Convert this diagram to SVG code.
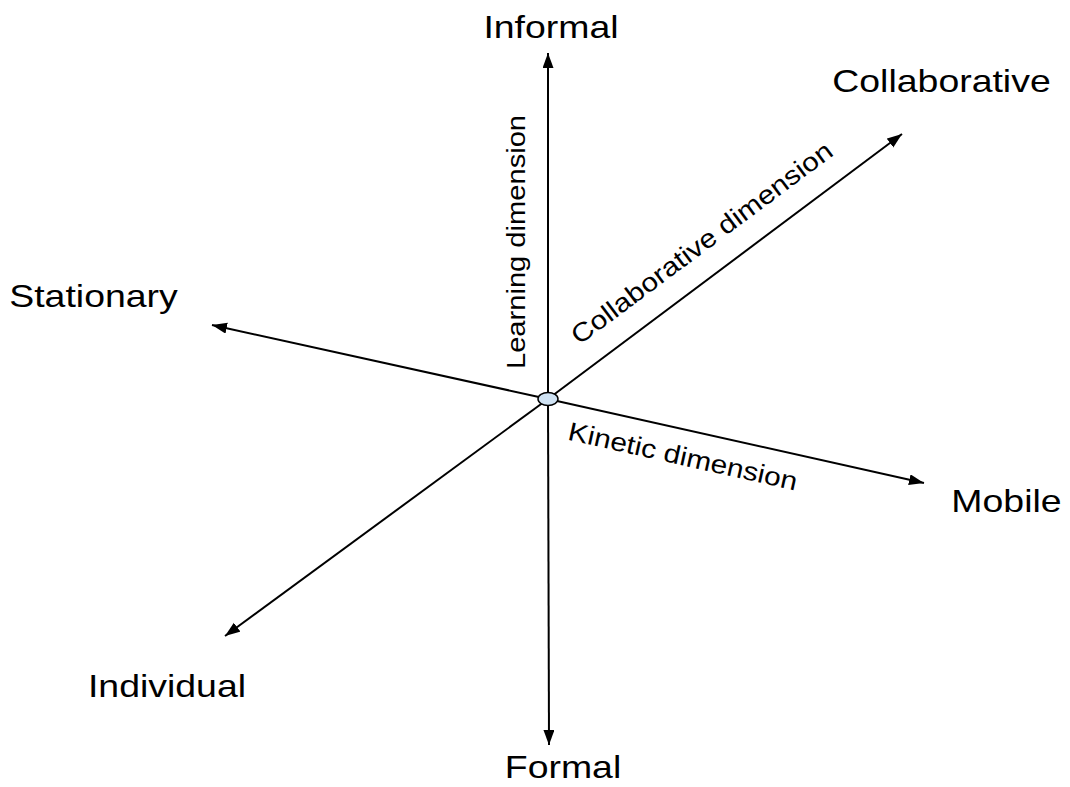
<svg xmlns="http://www.w3.org/2000/svg" width="1070" height="787" viewBox="0 0 1070 787">
<style>
.ax{stroke:#000;stroke-width:2;fill:none;marker-end:url(#ah)}
.lbl{font-family:"Liberation Sans",Arial,sans-serif;font-size:32px;fill:#000;text-anchor:middle}
.dim{font-family:"Liberation Sans",Arial,sans-serif;font-size:26px;fill:#000;text-anchor:middle}
</style>
<defs>
<marker id="ah" markerUnits="userSpaceOnUse" markerWidth="16" markerHeight="12" refX="15" refY="5.5" orient="auto">
<path d="M0,0 L15,5.5 L0,11 z" fill="#000"/>
</marker>
</defs>
<rect width="1070" height="787" fill="#fff"/>
<g id="connectors">
<line class="ax" x1="548" y1="399" x2="548" y2="53"/>
<line class="ax" x1="548" y1="399" x2="549" y2="745"/>
<line class="ax" x1="548" y1="399" x2="902" y2="134"/>
<line class="ax" x1="548" y1="399" x2="225" y2="636"/>
<line class="ax" x1="548" y1="399" x2="212" y2="325"/>
<line class="ax" x1="548" y1="399" x2="924" y2="483"/>
</g>
<g id="origin">
<ellipse cx="548" cy="399" rx="10" ry="6.5" fill="#cfe2f3" stroke="#000" stroke-width="1.5"/>
</g>
<g id="informal"><text class="lbl" transform="translate(551,38) scale(1.17,1)">Informal</text></g>
<g id="formal"><text class="lbl" transform="translate(563,778) scale(1.17,1)">Formal</text></g>
<g id="collaborative"><text class="lbl" transform="translate(941.5,92) scale(1.17,1)">Collaborative</text></g>
<g id="individual"><text class="lbl" transform="translate(167,697) scale(1.17,1)">Individual</text></g>
<g id="stationary"><text class="lbl" transform="translate(93.5,307) scale(1.17,1)">Stationary</text></g>
<g id="mobile"><text class="lbl" transform="translate(1006.5,512) scale(1.17,1)">Mobile</text></g>
<g id="learning-dimension"><text class="dim" transform="translate(525,242) rotate(-90) scale(1.12,1)">Learning dimension</text></g>
<g id="collaborative-dimension"><text class="dim" transform="translate(707,250) rotate(-36.8) scale(1.15,1)">Collaborative dimension</text></g>
<g id="kinetic-dimension"><text class="dim" transform="translate(681,465) rotate(12.6) scale(1.15,1)">Kinetic dimension</text></g>
</svg>
